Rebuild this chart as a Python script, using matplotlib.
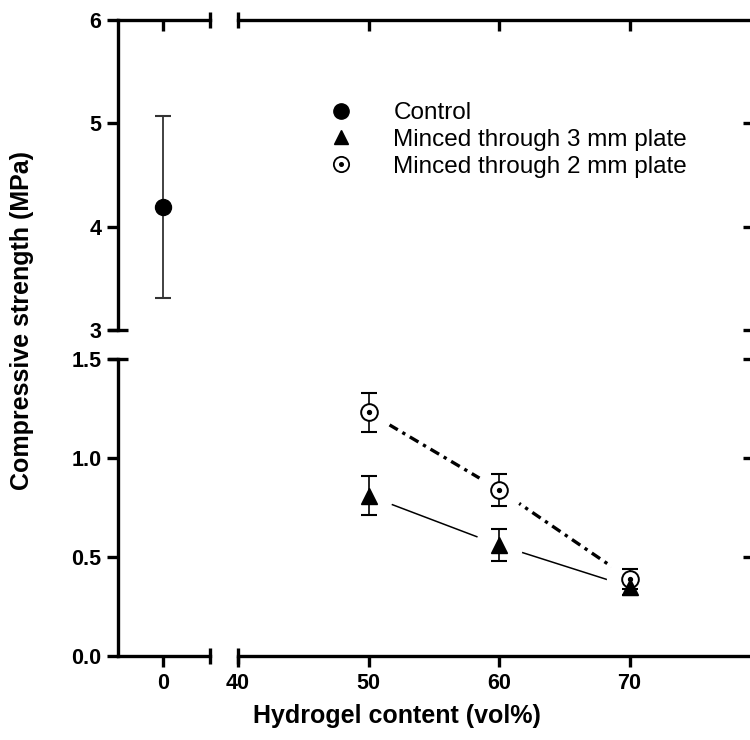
import matplotlib
matplotlib.use("Agg")
import matplotlib.pyplot as plt
from matplotlib.lines import Line2D
from matplotlib.legend_handler import HandlerTuple

plt.rcParams['font.family'] = ['Liberation Sans', 'DejaVu Sans']

# ---- data ----
control_x = [0]
control_mean = [4.19]
control_sd = [0.88]

hydrogel = [50, 60, 70]
mm3_mean = [0.81, 0.56, 0.35]
mm3_sd = [0.10, 0.08, 0.04]
mm2_mean = [1.23, 0.84, 0.39]
mm2_sd = [0.10, 0.08, 0.05]

top_yticks = [3, 4, 5, 6]
bot_yticks = [0.0, 0.5, 1.0, 1.5]
bot_yticklabels = ["0.0", "0.5", "1.0", "1.5"]
right_xticks = [40, 50, 60, 70]
left_xticks = [0]

legend_labels = ["Control", "Minced through 3 mm plate", "Minced through 2 mm plate"]
xlabel = "Hydrogel content (vol%)"
ylabel = "Compressive strength (MPa)"

W, H = 750, 740
fig = plt.figure(figsize=(W / 100, H / 100), dpi=100)


def px_axes(x0, x1, ytop, ybot):
    return fig.add_axes([x0 / W, 1 - ybot / H, (x1 - x0) / W, (ybot - ytop) / H])


TL = px_axes(118, 210, 20, 330)
TR = px_axes(238, 750, 20, 330)
BL = px_axes(118, 210, 359, 656)
BR = px_axes(238, 750, 359, 656)

SPW = 2.4
TICKLEN = 8
TFS = 15.5
for ax in (TL, TR, BL, BR):
    for s in ax.spines.values():
        s.set_linewidth(SPW)
        s.set_visible(False)
    ax.set_facecolor('none')
    ax.tick_params(width=SPW, length=TICKLEN, labelsize=TFS, pad=4)

LX = (-1.0, 1.04)
RX = (40, 79.23)
TY = (3, 6)
BY = (0, 1.5)

# top-left
TL.set_xlim(*LX); TL.set_ylim(*TY)
TL.spines['left'].set_visible(True); TL.spines['top'].set_visible(True)
TL.set_yticks(top_yticks)
TL.xaxis.set_ticks_position('top')
TL.set_xticks(left_xticks)
TL.tick_params(axis='x', direction='in', labeltop=False, labelbottom=False)

# top-right
TR.set_xlim(*RX); TR.set_ylim(*TY)
TR.spines['top'].set_visible(True)
TR.xaxis.set_ticks_position('top')
TR.set_xticks(right_xticks[1:])
TR.tick_params(axis='x', direction='in', labeltop=False, labelbottom=False)
TR.yaxis.set_ticks_position('right')
TR.set_yticks(top_yticks[:-1])
TR.tick_params(axis='y', direction='in', length=5, labelright=False, labelleft=False)

# bottom-left
BL.set_xlim(*LX); BL.set_ylim(*BY)
BL.spines['left'].set_visible(True); BL.spines['bottom'].set_visible(True)
BL.set_yticks(bot_yticks)
BL.set_yticklabels(bot_yticklabels)
BL.set_xticks(left_xticks)
BL.set_xticklabels([str(v) for v in left_xticks])

# bottom-right
BR.set_xlim(*RX); BR.set_ylim(*BY)
BR.spines['bottom'].set_visible(True)
BR.set_xticks(right_xticks)
BR.set_xticklabels([str(v) for v in right_xticks])
BR.yaxis.set_ticks_position('right')
BR.set_yticks(bot_yticks[1:])
BR.tick_params(axis='y', direction='in', length=5, labelright=False, labelleft=False)

for ax in (TL, TR, BL, BR):
    for lab in ax.get_xticklabels() + ax.get_yticklabels():
        lab.set_fontweight('bold')

# break caps
capkw = dict(color='k', clip_on=False, markeredgewidth=SPW, ls='none')
TL.plot([1], [1], marker='|', markersize=11, transform=TL.transAxes, **capkw)
TR.plot([0], [1], marker='|', markersize=11, transform=TR.transAxes, **capkw)
BL.plot([1], [0], marker='|', markersize=11, transform=BL.transAxes, **capkw)
BR.plot([0], [0], marker='|', markersize=11, transform=BR.transAxes, **capkw)
TL.plot([0], [0], marker='_', markersize=14, transform=TL.transAxes, **capkw)
BL.plot([0], [1], marker='_', markersize=14, transform=BL.transAxes, **capkw)

# control data
TL.errorbar(control_x, control_mean, yerr=control_sd, fmt='o', color='k',
            ecolor='#333333', elinewidth=1.3, capsize=6, capthick=1.5,
            markersize=11.5, zorder=3, clip_on=False)

# hydrogel series
BR.plot(hydrogel, mm3_mean, color='k', lw=1.1, zorder=1)
BR.plot(hydrogel, mm2_mean, color='k', lw=2.4, dashes=(3, 1.6, 1, 1.6), zorder=1)
BR.plot(hydrogel, mm3_mean, 'o', color='white', markersize=33, zorder=2)
BR.plot(hydrogel, mm2_mean, 'o', color='white', markersize=33, zorder=2)

BR.errorbar(hydrogel, mm2_mean, yerr=mm2_sd, fmt='none', ecolor='k',
            elinewidth=1.2, capsize=6, capthick=1.5, zorder=3)
BR.errorbar(hydrogel, mm3_mean, yerr=mm3_sd, fmt='none', ecolor='k',
            elinewidth=1.2, capsize=6, capthick=1.5, zorder=3)
BR.plot(hydrogel, mm2_mean, 'o', mfc='white', mec='k', mew=1.4, markersize=12, zorder=4)
BR.plot(hydrogel, mm2_mean, 'o', color='k', markersize=2.8, zorder=5)
BR.plot(hydrogel, mm3_mean, '^', color='k', markersize=11, zorder=4)

# legend
h_ctrl = Line2D([], [], marker='o', ls='none', color='k', markersize=11)
h_3 = Line2D([], [], marker='^', ls='none', color='k', markersize=10.5)
h_2a = Line2D([], [], marker='o', ls='none', mfc='white', mec='k', mew=1.3, markersize=11)
h_2b = Line2D([], [], marker='o', ls='none', color='k', markersize=2.6)
fig.legend([h_ctrl, h_3, (h_2a, h_2b)], legend_labels,
           handler_map={tuple: HandlerTuple(ndivide=1, pad=0)},
           loc='upper left', bbox_to_anchor=(323 / W, 1 - 102 / H),
           frameon=False, fontsize=17.5, handlelength=1.45, handletextpad=1.45,
           labelspacing=0.2, borderaxespad=0, borderpad=0)

fig.text(397 / W, 1 - 716 / H, xlabel, ha='center', va='center',
         fontsize=18, fontweight='bold')
fig.text(22 / W, 1 - 320 / H, ylabel, ha='center', va='center',
         fontsize=18, fontweight='bold', rotation=90)

fig.savefig('out.png', dpi=100)
